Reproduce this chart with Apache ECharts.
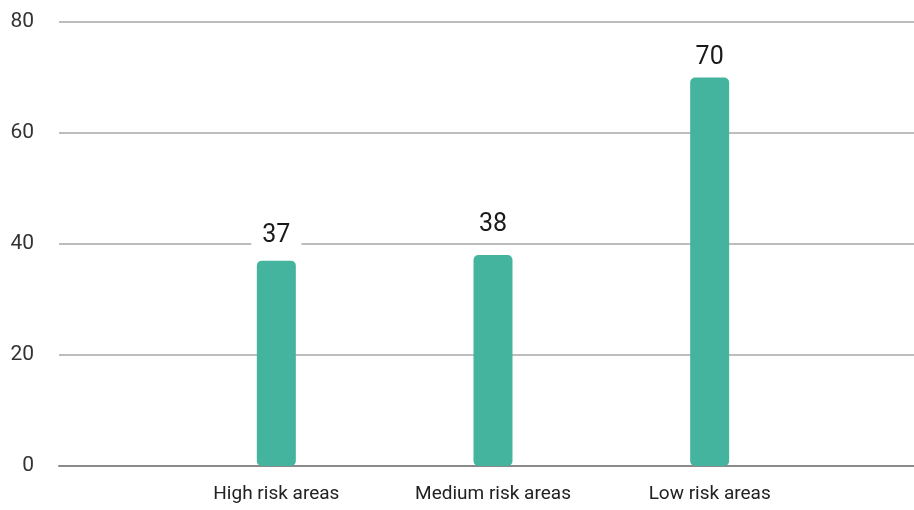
<!DOCTYPE html>
<html>
<head>
<meta charset="utf-8">
<script src="https://cdn.jsdelivr.net/npm/echarts@6/dist/echarts.min.js"></script>
<style>
  html, body { margin: 0; padding: 0; background: #fff; }
  #chart { width: 914px; height: 510px; }
</style>
</head>
<body>
<div id="chart"></div>
<script>
var categories = ['High risk areas', 'Medium risk areas', 'Low risk areas']
var values = [37, 38, 70]
var yTicks = [0, 20, 40, 60, 80]

var font = 'Roboto, sans-serif'

// label offsets per bar (the original puts them a bit unevenly)
var labelDistance = [12, 18, 7]

var chart = echarts.init(document.getElementById('chart'))

var barData = values.map(function (v, i) {
    var item = { value: v, label: { distance: labelDistance[i] } }
    if (i === 0) {
        // this one overlaps the 40 gridline, the original masks it with white
        item.label.backgroundColor = '#fff'
        item.label.padding = [0, 11]
    }
    return item
})

var yMin = yTicks[0]
var yMax = yTicks[yTicks.length - 1]

var option = {
    animation: false,
    // grid 0: full width gridlines + y labels, grid 1: the bars
    grid: [
        { left: 59, right: 0, top: 22, bottom: 44 },
        { left: 168, right: 96, top: 22, bottom: 44 }
    ],
    xAxis: [
        {
            gridIndex: 0,
            type: 'category',
            data: [''],
            axisTick: { show: false },
            axisLabel: { show: false },
            axisLine: { lineStyle: { color: '#8a8a8a', width: 2 } }
        },
        {
            gridIndex: 1,
            type: 'category',
            data: categories,
            axisTick: { show: false },
            axisLine: { show: false },
            axisLabel: {
                interval: 0,
                margin: 19,
                color: '#222',
                fontSize: 19,
                fontFamily: font
            }
        }
    ],
    yAxis: [
        {
            gridIndex: 0,
            type: 'value',
            min: yMin,
            max: yMax,
            interval: 20,
            axisLine: { show: false },
            axisTick: { show: false },
            axisLabel: {
                margin: 25,
                color: '#333',
                fontSize: 21,
                fontFamily: font
            },
            splitLine: { lineStyle: { color: '#bdbdbd', width: 2 } }
        },
        {
            gridIndex: 1,
            type: 'value',
            min: yMin,
            max: yMax,
            interval: 20,
            show: false,
            splitLine: { show: false }
        }
    ],
    series: [
        {
            type: 'bar',
            xAxisIndex: 1,
            yAxisIndex: 1,
            data: barData,
            barWidth: 39,
            itemStyle: { color: '#45B49F', borderRadius: 5 },
            label: {
                show: true,
                position: 'top',
                color: '#1a1a1a',
                fontSize: 25,
                fontFamily: font
            }
        }
    ]
}

chart.setOption(option)
</script>
</body>
</html>
